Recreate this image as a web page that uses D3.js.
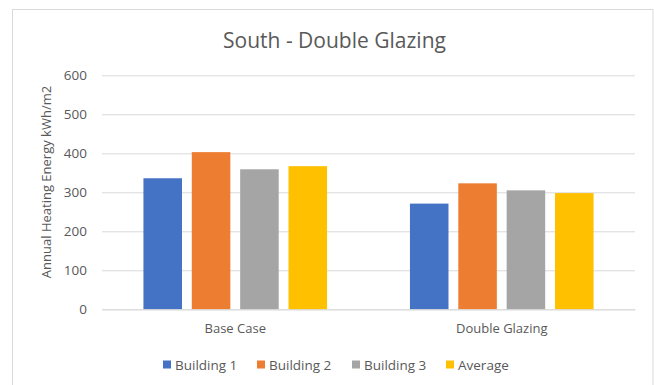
<!DOCTYPE html>
<html>
<head>
<meta charset="utf-8">
<script src="https://cdn.jsdelivr.net/npm/d3@7"></script>
<style>
  html, body { margin: 0; padding: 0; background: #fff; }
  svg { display: block; font-family: "Open Sans", "Noto Sans", sans-serif; }
</style>
</head>
<body>
<svg id="chart" width="654" height="385"></svg>
<script>
// Annual heating energy (kWh/m2) per building, south orientation
const categories = ["Base Case", "Double Glazing"];
const seriesNames = ["Building 1", "Building 2", "Building 3", "Average"];
const building1 = [336, 271];
const building2 = [403, 323];
const building3 = [359, 305];
const average = [367, 298];
const yTicks = [0, 100, 200, 300, 400, 500, 600];
const colors = ["#4472C4", "#ED7D31", "#A5A5A5", "#FFC000"];

const seriesValues = [building1, building2, building3, average];
const rows = categories.map((c, i) => ({
  category: c,
  values: seriesNames.map((s, j) => ({ series: s, value: seriesValues[j][i], color: colors[j] }))
}));

const svg = d3.select("#chart");
const plot = { left: 102, right: 635, top: 75.3, bottom: 309.3 };

// chart frame
svg.append("rect")
  .attr("x", 12.5).attr("y", 9.5)
  .attr("width", 640.5).attr("height", 385)
  .attr("fill", "#fff").attr("stroke", "#d9d9d9");

const x0 = d3.scaleBand().domain(categories)
  .range([plot.left, plot.right])
  .paddingInner(0.311).paddingOuter(0.1555);
const x1 = d3.scaleBand().domain(seriesNames)
  .range([0, x0.bandwidth()])
  .paddingInner(0.203).paddingOuter(0);
const y = d3.scaleLinear().domain([0, 600]).range([plot.bottom, plot.top]);

// gridlines and tick labels
const yAxis = d3.axisLeft(y).tickValues(yTicks)
  .tickSize(-(plot.right - plot.left)).tickPadding(15);
const gy = svg.append("g").attr("transform", `translate(${plot.left},0)`).call(yAxis);
gy.select(".domain").remove();
gy.selectAll(".tick line").attr("stroke", "#d9d9d9").attr("stroke-width", 1);
gy.selectAll(".tick text").attr("fill", "#595959").attr("font-size", 13.5)
  .attr("font-family", "'Open Sans', sans-serif");

// bars
const groups = svg.append("g").selectAll("g").data(rows).join("g")
  .attr("transform", d => `translate(${x0(d.category)},0)`);
groups.selectAll("rect").data(d => d.values).join("rect")
  .attr("x", d => x1(d.series))
  .attr("width", x1.bandwidth())
  .attr("y", d => y(d.value))
  .attr("height", d => y(0) - y(d.value))
  .attr("fill", d => d.color);

// category axis
const xAxis = d3.axisBottom(x0).tickSize(0).tickPadding(14);
const gx = svg.append("g").attr("transform", `translate(0,${plot.bottom})`).call(xAxis);
gx.select(".domain").attr("stroke", "#d9d9d9");
gx.selectAll(".tick text").attr("fill", "#595959").attr("font-size", 13)
  .attr("font-family", "'Open Sans', sans-serif");

// title
svg.append("text")
  .attr("x", 334.5).attr("y", 48)
  .attr("text-anchor", "middle")
  .attr("fill", "#595959").attr("font-size", 21)
  .text("South - Double Glazing");

// y-axis title
svg.append("text")
  .attr("transform", "translate(51,182) rotate(-90)")
  .attr("text-anchor", "middle")
  .attr("fill", "#595959").attr("font-size", 13)
  .text("Annual Heating Energy kWh/m2");

// legend
const legendX = [163, 257, 352, 446];
const legend = svg.append("g").selectAll("g").data(seriesNames).join("g")
  .attr("transform", (d, i) => `translate(${legendX[i]},365)`);
legend.append("rect").attr("x", 0).attr("y", -4.5).attr("width", 8).attr("height", 8)
  .attr("fill", (d, i) => colors[i]);
legend.append("text").attr("x", 12).attr("y", 0).attr("dy", "0.35em")
  .attr("fill", "#595959").attr("font-size", 13.5)
  .text(d => d);
</script>
</body>
</html>
